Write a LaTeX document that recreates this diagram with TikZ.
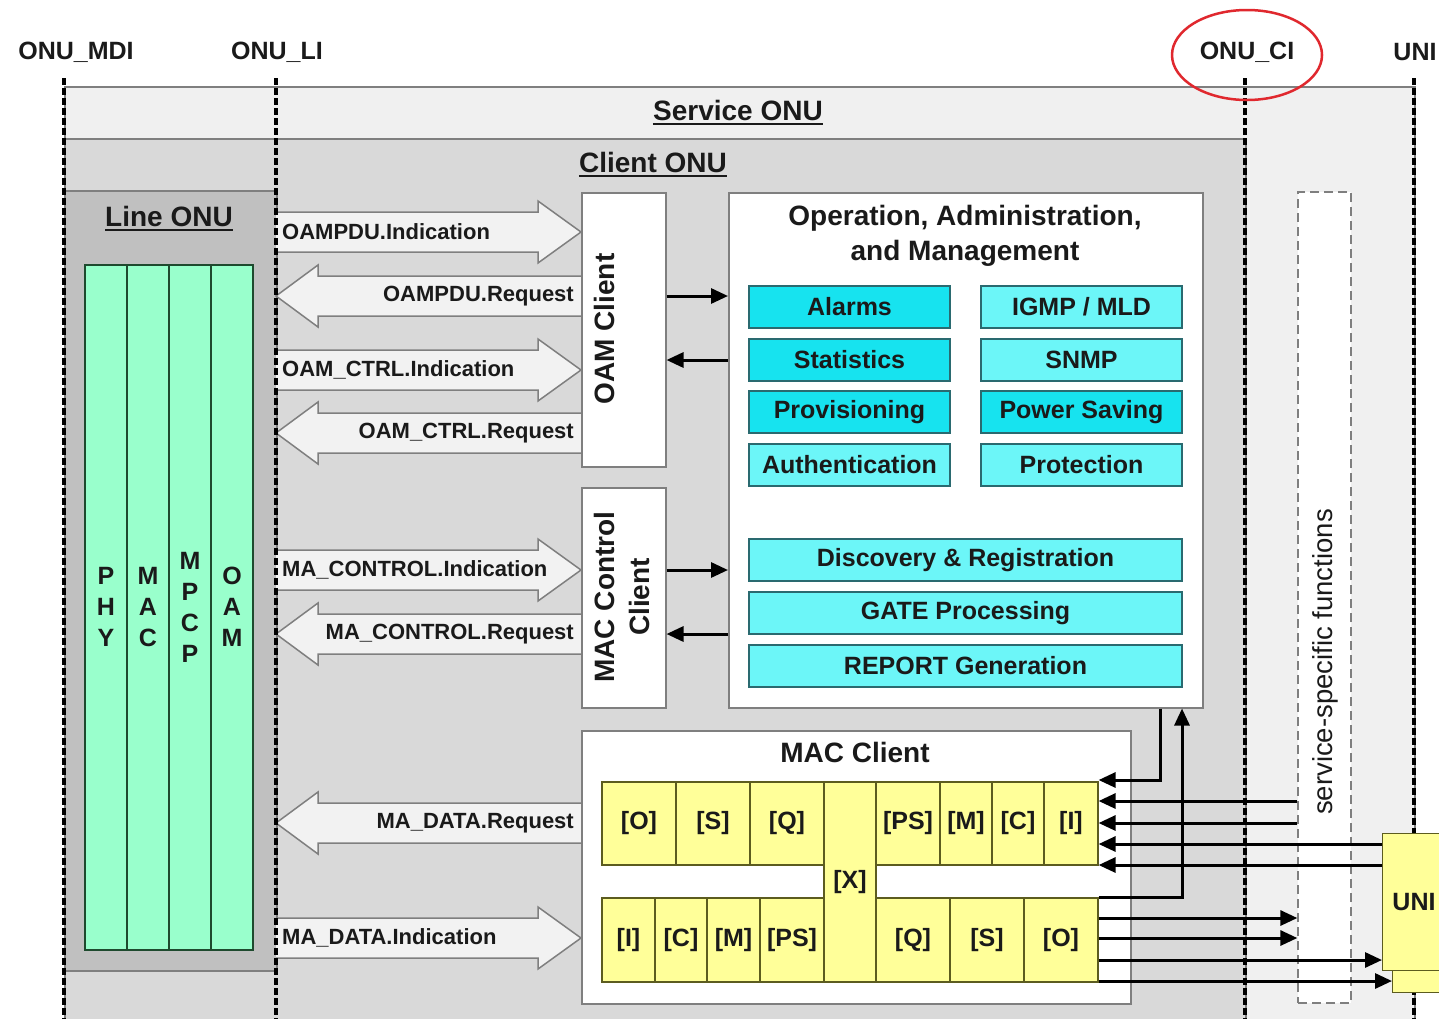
\documentclass[tikz,border=0pt]{standalone}
\usepackage{fontspec}
\setmainfont{Liberation Sans}
\usetikzlibrary{arrows.meta}
\definecolor{svc}{HTML}{F0F0F0}
\definecolor{cli}{HTML}{D9D9D9}
\definecolor{lin}{HTML}{C0C0C0}
\definecolor{frm}{HTML}{7F7F7F}
\definecolor{grn}{HTML}{99FFCC}
\definecolor{grnb}{HTML}{1E4A2E}
\definecolor{cyA}{HTML}{17E3EF}
\definecolor{cyB}{HTML}{6CF6F8}
\definecolor{cyb}{HTML}{2A6A70}
\definecolor{ylw}{HTML}{FFFF99}
\definecolor{ylb}{HTML}{5C5C1F}
\definecolor{arr}{HTML}{F2F2F2}
\definecolor{txt}{HTML}{1A1A1A}
\definecolor{redc}{HTML}{E0282E}
\newcommand\sz[2]{\fontsize{#1}{#2}\selectfont}
\newcommand\rblk[3]{%
  \draw[barrow] (276,#1-20) -- (538,#1-20) -- (538,#1-31) -- (581,#1) -- (538,#1+31) -- (538,#1+20) -- (276,#1+20);
  \node[alab, anchor=west] (#2) at (282,#1) {#3};}
\newcommand\lblk[3]{%
  \draw[barrow] (581,#1-20) -- (318,#1-20) -- (318,#1-31) -- (276,#1) -- (318,#1+31) -- (318,#1+20) -- (581,#1+20);
  \node[alab, anchor=east] (#2) at (574,#1) {#3};}
\tikzset{
  bg/.style={draw=frm, line width=1.5pt, anchor=north west, inner sep=0},
  wbox/.style={draw=frm, fill=white, line width=1.5pt, anchor=north west, inner sep=0},
  lab/.style={text=txt, font=\bfseries\sz{25}{29}, inner sep=0},
  ttl/.style={text=txt, font=\bfseries\sz{28}{35}, inner sep=0},
  alab/.style={text=txt, font=\bfseries\sz{22}{26}, inner sep=0},
  cyanbox/.style={draw=cyb, line width=1.3pt, minimum height=42, inner sep=0, text=txt, font=\bfseries\sz{25}{29}},
  gcol/.style={draw=grnb, fill=grn, line width=1.5pt, minimum width=42, minimum height=685, inner sep=0},
  cell/.style={draw=ylb, fill=ylw, line width=1.2pt, inner sep=0, text=txt, font=\bfseries\sz{25}{29}},
  dline/.style={line width=4.6pt, dash pattern=on 7pt off 3pt, black},
  sig/.style={line width=3pt, black, -{Triangle[length=17pt,width=15pt]}},
  barrow/.style={draw=frm, fill=arr, line width=1.5pt, line join=miter},
}
\begin{document}
\begin{tikzpicture}[x=1pt,y=-1pt]
\useasboundingbox (0,0) rectangle (1439,1018);
\fill[white] (0,0) rectangle (1439,1018);
% backgrounds
\node[bg, fill=svc, minimum width=1350, minimum height=950] (service) at (64,86) {};
\node[bg, fill=cli, minimum width=1181, minimum height=900] (client) at (64,138) {};
\node[bg, fill=lin, minimum width=212, minimum height=780] (line) at (64,190) {};
% titles
\node[ttl] (svct) at (738,110) {Service ONU};
\draw[line width=2pt, txt] ([yshift=-4pt]svct.base west) -- ([yshift=-4pt]svct.base east);
\node[ttl] (clit) at (653,162) {Client ONU};
\draw[line width=2pt, txt] ([yshift=-4pt]clit.base west) -- ([yshift=-4pt]clit.base east);
\node[ttl] (lint) at (169,216) {Line ONU};
\draw[line width=2pt, txt] ([yshift=-4pt]lint.base west) -- ([yshift=-4pt]lint.base east);
% green layer columns
\node[gcol] (phy) at (106,607.5) {};
\node[gcol] (mac) at (148,607.5) {};
\node[gcol] (mpcp) at (190,607.5) {};
\node[gcol] (oaml) at (232,607.5) {};
\node[lab, align=center, font=\bfseries\sz{25}{31}] (phyt) at (106,607) {P\\H\\Y};
\node[lab, align=center, font=\bfseries\sz{25}{31}] (mact) at (148,607) {M\\A\\C};
\node[lab, align=center, font=\bfseries\sz{25}{31}] (mpcpt) at (190,607) {M\\P\\C\\P};
\node[lab, align=center, font=\bfseries\sz{25}{31}] (oamlt) at (232,607) {O\\A\\M};
% service-specific functions
\node[draw=frm, dash pattern=on 9pt off 5pt, fill=white, line width=1.3pt, minimum width=53, minimum height=811, inner sep=0] (ssf) at (1324.5,597.5) {};
\node[rotate=90, text=txt, font=\sz{27.5}{30}, inner sep=0] (ssft) at (1325,662) {service-specific functions};
% block arrows
\rblk{232}{a1}{OAMPDU.Indication}
\lblk{296}{a2}{OAMPDU.Request}
\rblk{370}{a3}{OAM\_CTRL.Indication}
\lblk{433}{a4}{OAM\_CTRL.Request}
\rblk{570}{a5}{MA\_CONTROL.Indication}
\lblk{634}{a6}{MA\_CONTROL.Request}
\lblk{823}{a7}{MA\_DATA.Request}
\rblk{938}{a8}{MA\_DATA.Indication}
% client boxes
\node[wbox, minimum width=84, minimum height=274] (oamc) at (581,192) {};
\node[ttl, rotate=90] (oamct) at (604,329) {OAM Client};
\node[wbox, minimum width=84, minimum height=220] (macc) at (581,487) {};
\node[ttl, rotate=90, align=center] (macct) at (622,597) {MAC Control\\Client};
% OAM box
\node[wbox, minimum width=474, minimum height=515] (oam) at (728,192) {};
\node[ttl, align=center] (oamt) at (965,236) {Operation, Administration,\\and Management};
\node[cyanbox, fill=cyA, minimum width=201] (alarms) at (849.5,307) {Alarms};
\node[cyanbox, fill=cyB, minimum width=201] (igmp) at (1081.5,307) {IGMP / MLD};
\node[cyanbox, fill=cyA, minimum width=201] (stats) at (849.5,360) {Statistics};
\node[cyanbox, fill=cyB, minimum width=201] (snmp) at (1081.5,360) {SNMP};
\node[cyanbox, fill=cyA, minimum width=201] (prov) at (849.5,412) {Provisioning};
\node[cyanbox, fill=cyA, minimum width=201] (power) at (1081.5,412) {Power Saving};
\node[cyanbox, fill=cyB, minimum width=201] (auth) at (849.5,465) {Authentication};
\node[cyanbox, fill=cyB, minimum width=201] (prot) at (1081.5,465) {Protection};
\node[cyanbox, fill=cyB, minimum width=433] (disc) at (965.5,560) {Discovery \& Registration};
\node[cyanbox, fill=cyB, minimum width=433] (gate) at (965.5,613) {GATE Processing};
\node[cyanbox, fill=cyB, minimum width=433] (report) at (965.5,666) {REPORT Generation};
% MAC client
\node[wbox, minimum width=549, minimum height=273] (macl) at (581,730) {};
\node[ttl] (maclt) at (855,752) {MAC Client};
\node[cell, minimum width=52, minimum height=200] (cX) at (850,882) {[X]};
\node[cell, minimum width=74, minimum height=83] (tO) at (639,823.5) {[O]};
\node[cell, minimum width=74, minimum height=83] (tS) at (713,823.5) {[S]};
\node[cell, minimum width=74, minimum height=83] (tQ) at (787,823.5) {[Q]};
\node[cell, minimum width=64, minimum height=83] (tPS) at (908,823.5) {[PS]};
\node[cell, minimum width=52, minimum height=83] (tM) at (966,823.5) {[M]};
\node[cell, minimum width=52, minimum height=83] (tC) at (1018,823.5) {[C]};
\node[cell, minimum width=54, minimum height=83] (tI) at (1071,823.5) {[I]};
\node[cell, minimum width=53, minimum height=84] (bI) at (628.5,940) {[I]};
\node[cell, minimum width=52, minimum height=84] (bC) at (681,940) {[C]};
\node[cell, minimum width=53, minimum height=84] (bM) at (733.5,940) {[M]};
\node[cell, minimum width=64, minimum height=84] (bPS) at (792,940) {[PS]};
\node[cell, minimum width=74, minimum height=84] (bQ) at (913,940) {[Q]};
\node[cell, minimum width=74, minimum height=84] (bS) at (987,940) {[S]};
\node[cell, minimum width=74, minimum height=84] (bO) at (1061,940) {[O]};
% interface lines
\draw[dline] (64,78) -- (64,1025);
\draw[dline] (276,78) -- (276,1025);
\draw[dline] (1245,78) -- (1245,1025);
\draw[dline] (1414,78) -- (1414,1025);
% UNI boxes
\node[cell, anchor=north west, minimum width=70, minimum height=147] (unib) at (1392,845) {};
\node[cell, anchor=north west, minimum width=80, minimum height=137] (unif) at (1382,833) {};
\node[lab] (unit) at (1414,902) {UNI};
% signal arrows
\draw[sig] (oamc.east |- 0,296) -- (oam.west |- 0,296);
\draw[sig] (oam.west |- 0,360) -- (oamc.east |- 0,360);
\draw[sig] (macc.east |- 0,570) -- (oam.west |- 0,570);
\draw[sig] (oam.west |- 0,634) -- (macc.east |- 0,634);
\draw[sig] (oam.south -| 1160,0) |- (tI.east |- 0,780);
\draw[sig] (ssf.west |- 0,801) -- (tI.east |- 0,801);
\draw[sig] (ssf.west |- 0,823) -- (tI.east |- 0,823);
\draw[sig] (unif.west |- 0,844) -- (tI.east |- 0,844);
\draw[sig] (unif.west |- 0,865) -- (tI.east |- 0,865);
\draw[sig] (bO.east |- 0,897) -| (oam.south -| 1182,0);
\draw[sig] (bO.east |- 0,918) -- (ssf.west |- 0,918);
\draw[sig] (bO.east |- 0,938) -- (ssf.west |- 0,938);
\draw[sig] (bO.east |- 0,960) -- (unif.west |- 0,960);
\draw[sig] (bO.east |- 0,981) -- (unib.west |- 0,981);
% interface labels
\node[lab] (mdi) at (76,52) {ONU\_MDI};
\node[lab] (li) at (277,52) {ONU\_LI};
\node[lab] (ci) at (1247,52) {ONU\_CI};
\node[lab] (uni) at (1415,52) {UNI};
\draw[redc, line width=2.5pt] (1247,55) ellipse [x radius=75, y radius=45];
\end{tikzpicture}
\end{document}
